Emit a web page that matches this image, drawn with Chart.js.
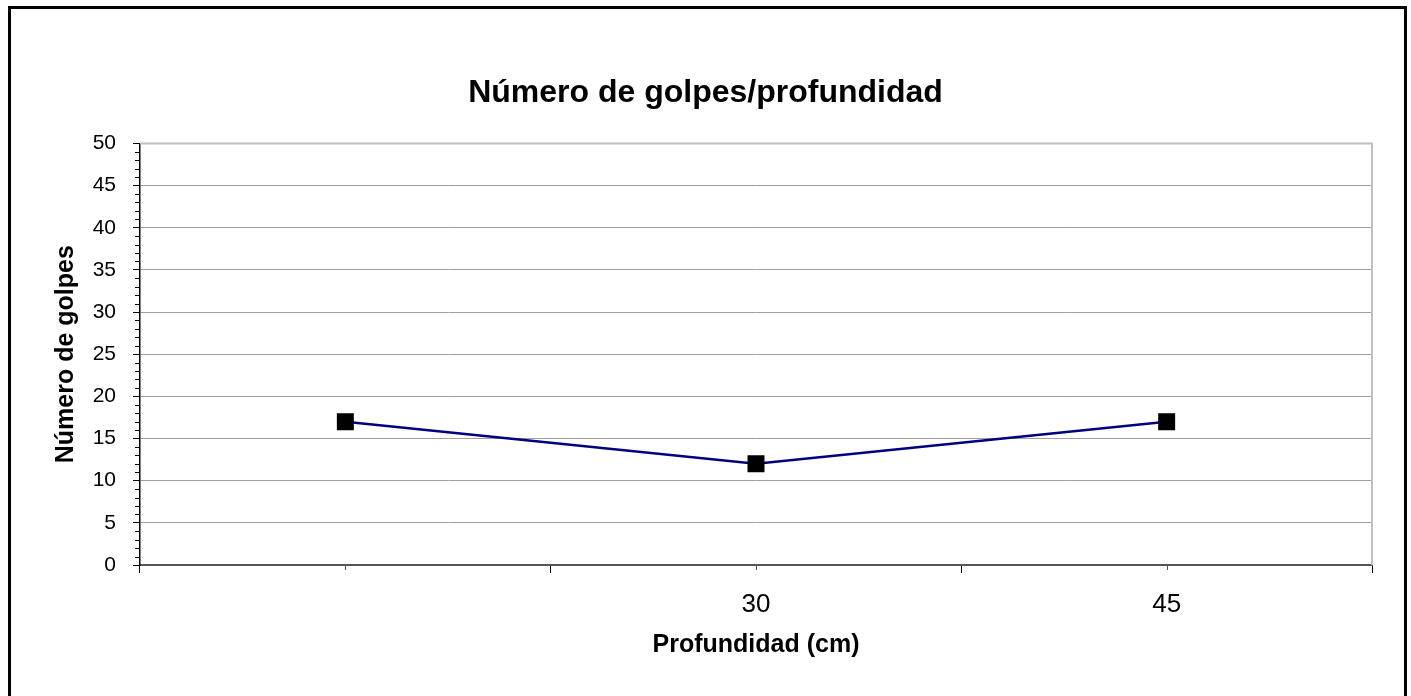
<!DOCTYPE html>
<html>
<head>
<meta charset="utf-8">
<script src="https://cdn.jsdelivr.net/npm/chart.js@4/dist/chart.umd.min.js"></script>
<style>
  html, body { margin: 0; padding: 0; background: #fff; overflow: hidden; }
  #frame {
    position: absolute; left: 8px; top: 6px; width: 1393px; height: 720px;
    border: 3px solid #000; pointer-events: none;
  }
  canvas { position: absolute; left: 0; top: 0; }
</style>
</head>
<body>
<canvas id="chart" width="1411" height="696"></canvas>
<div id="frame"></div>
<script>
// datos
var profundidades = ['', '30', '45'];
var golpes = [17, 12, 17];
var yMin = 0, yMax = 50, yStep = 5;

var fontFamily = '"Liberation Sans", Arial, sans-serif';

// ticks menores y marco del area de trazado
var excelAxes = {
    id: 'excelAxes',
    beforeDatasetsDraw: function(chart) {
        var ctx = chart.ctx, a = chart.chartArea;
        ctx.save();
        ctx.strokeStyle = '#c0c0c0';
        ctx.lineWidth = 2;
        ctx.beginPath();
        ctx.moveTo(a.left, a.top);
        ctx.lineTo(a.right, a.top);
        ctx.lineTo(a.right, a.bottom);
        ctx.stroke();
        ctx.restore();
    },
    afterDraw: function(chart) {
        var ctx = chart.ctx, a = chart.chartArea;
        var y = chart.scales.y, x = chart.scales.x;
        ctx.save();
        ctx.lineWidth = 1;
        ctx.strokeStyle = '#000';
        ctx.beginPath();
        for (var v = yMin; v <= yMax; v++) {
            if (v % yStep === 0) continue;
            var py = Math.round(y.getPixelForValue(v)) + 0.5;
            ctx.moveTo(a.left - 5, py);
            ctx.lineTo(a.left, py);
        }
        ctx.stroke();
        ctx.strokeStyle = '#555';
        ctx.beginPath();
        for (var i = 0; i < profundidades.length; i++) {
            var px = Math.round(x.getPixelForValue(i)) + 0.5;
            ctx.moveTo(px, a.bottom);
            ctx.lineTo(px, a.bottom + 5);
        }
        ctx.stroke();
        ctx.restore();
    }
};

var ctx = document.getElementById('chart');

var myChart = new Chart(ctx, {
    type: 'line',
    data: {
        labels: profundidades,
        datasets: [{
            label: 'Golpes',
            data: golpes,
            borderColor: '#000080',
            borderWidth: 2.5,
            backgroundColor: '#000',
            pointStyle: 'rect',
            pointRadius: 12,
            pointHoverRadius: 12,
            pointBackgroundColor: '#000',
            pointBorderColor: '#000',
            pointBorderWidth: 0,
            tension: 0
        }]
    },
    plugins: [excelAxes],
    options: {
        responsive: false,
        animation: false,
        events: [],
        layout: { padding: { left: 39, right: 39, top: 0, bottom: 0 } },
        plugins: {
            legend: { display: false },
            tooltip: { enabled: false },
            title: {
                display: true,
                text: 'Número de golpes/profundidad',
                color: '#000',
                font: { family: fontFamily, size: 32, weight: 'bold', lineHeight: 1.2 },
                padding: { top: 74, bottom: 31 }
            }
        },
        scales: {
            x: {
                offset: true,
                afterFit: function(s) { s.height = 131; },
                grid: {
                    offset: true,
                    drawOnChartArea: false,
                    drawTicks: true,
                    tickLength: 8,
                    tickColor: '#000',
                    color: '#000'
                },
                border: { color: '#555', width: 2 },
                ticks: {
                    color: '#000',
                    padding: 16,
                    maxRotation: 0,
                    font: { family: fontFamily, size: 26 }
                },
                title: {
                    display: true,
                    text: 'Profundidad (cm)',
                    color: '#000',
                    font: { family: fontFamily, size: 25, weight: 'bold', lineHeight: 1.2 },
                    padding: { top: 0, bottom: 36 }
                }
            },
            y: {
                min: yMin,
                max: yMax,
                afterFit: function(s) { s.width = 101; },
                grid: {
                    color: '#a0a0a0',
                    lineWidth: 1,
                    tickLength: 7,
                    tickColor: '#000'
                },
                border: { color: '#000', width: 1.5 },
                ticks: {
                    stepSize: yStep,
                    color: '#000',
                    padding: 17,
                    font: { family: fontFamily, size: 21 }
                },
                title: {
                    display: true,
                    text: 'Número de golpes',
                    color: '#000',
                    font: { family: fontFamily, size: 25, weight: 'bold', lineHeight: 1.2 },
                    padding: { top: 12, bottom: 0 }
                }
            }
        }
    }
});
</script>
</body>
</html>
